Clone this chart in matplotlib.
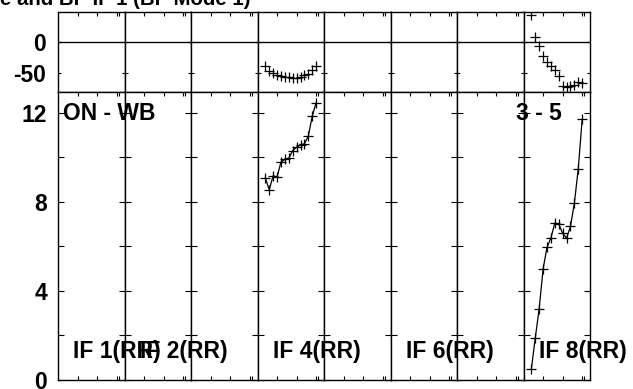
import matplotlib.pyplot as plt
import numpy as np

plt.rcParams['font.family'] = ['Liberation Sans', 'DejaVu Sans']
plt.rcParams['font.weight'] = 'bold'
plt.rcParams['axes.unicode_minus'] = False

# channel numbers of the plotted points (same for every IF)
channels = np.arange(2, 16)

# IF 4 (RR): amplitude and phase per channel
if4_amp = [9.07, 8.54, 9.17, 9.11, 9.78, 9.90, 9.95, 10.30, 10.45, 10.56, 10.60, 10.95, 11.85, 12.45]
if4_phase = [-39.8, -47.9, -50.5, -53.2, -54.8, -56.5, -57.5, -58.6, -58.1, -56.5, -54.3, -51.6, -45.2, -39.8]

# IF 8 (RR)
if8_amp = [0.48, 1.87, 3.19, 4.97, 5.95, 6.37, 7.04, 7.01, 6.59, 6.37, 6.89, 7.93, 9.48, 11.70]
if8_phase = [43.5, 6.9, -7.5, -23.7, -32.8, -39.8, -46.2, -55.9, -71.0, -73.1, -72.0, -70.4, -65.6, -66.7]

n_if = 8
labelled_ifs = [1, 2, 4, 6, 8]
amp_ticks = [0, 4, 8, 12]
phase_ticks = [-50, 0]

data = {4: (if4_amp, if4_phase), 8: (if8_amp, if8_phase)}

W, H = 633, 389
fig = plt.figure(figsize=(W / 100, H / 100), dpi=100)
gs = fig.add_gridspec(2, n_if, left=58 / W, right=590 / W, top=1 - 11.7 / H, bottom=1 - 380 / H,
                      height_ratios=[80, 288.3], wspace=0, hspace=0)

fs = 16.5
for i in range(n_if):
    ifn = i + 1
    axp = fig.add_subplot(gs[0, i])
    axa = fig.add_subplot(gs[1, i])
    for ax in (axp, axa):
        ax.set_xlim(0, 17)
        ax.set_xticks([5, 10, 15, 15.5])
        ax.set_xticklabels([])
        for s in ax.spines.values():
            s.set_linewidth(1.0)
    axp.set_ylim(-80.5, 48.5)
    axa.set_ylim(0, 12.94)
    axp.axhline(0, color='black', lw=1.0)

    axp.set_yticks(phase_ticks)
    axp.tick_params(axis='y', direction='in', left=True, right=True, length=2.3, width=0.8)
    axp.tick_params(axis='x', direction='in', top=True, bottom=False, length=3.2, width=0.8)
    axa.set_yticks(amp_ticks)
    axa.set_yticks([2, 6, 10], minor=True)
    axa.tick_params(axis='y', which='both', direction='in', left=True, right=True, length=4.3, width=0.8)
    axa.tick_params(axis='x', direction='in', top=True, bottom=True, length=3.2, width=0.8)

    if i == 0:
        axp.set_yticklabels([str(t) for t in phase_ticks], fontsize=fs, fontweight='bold')
        axa.set_yticklabels([str(t) for t in amp_ticks], fontsize=fs, fontweight='bold')
        axp.tick_params(axis='y', pad=9)
        axa.tick_params(axis='y', pad=8)
        fig.text(1.25, 11.67, 'ON - WB', transform=axa.transData, fontsize=fs,
                 fontweight='bold', va='baseline')
    else:
        axp.set_yticklabels([])
        axa.set_yticklabels([])

    if ifn in data:
        amp, ph = data[ifn]
        axa.plot(channels, amp, color='black', lw=0.9, marker='+', ms=7, mew=0.9)
        axp.plot(channels, ph, ls='none', color='black', marker='+', ms=7, mew=0.9)
    if ifn in labelled_ifs:
        fig.text(3.95, 0.98, f'IF {ifn}(RR)', transform=axa.transData, fontsize=fs,
                 fontweight='bold', va='baseline')
    if ifn == 8:
        fig.text(-1.8, 11.67, '3 - 5', transform=axa.transData, fontsize=fs,
                 fontweight='bold', va='baseline')

fig.text(0, 1 - 5 / H, 'e and BP IF 1 (BP Mode 1)', fontsize=14.7, fontweight='bold', va='baseline')

fig.savefig('out.png', dpi=100)
